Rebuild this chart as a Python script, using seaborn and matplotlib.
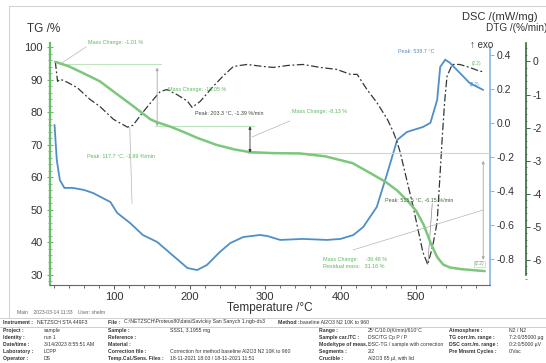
import matplotlib
matplotlib.use("Agg")
import matplotlib.pyplot as plt
from matplotlib.ticker import MultipleLocator, FormatStrFormatter
import seaborn as sns

# ---- measured curves -------------------------------------------------------
temp_tg = [22, 40, 60, 81, 100, 125, 148, 157, 175, 191, 210, 236, 260, 280, 310,
           346, 380, 416, 439, 460, 475, 490, 500, 510, 520, 528, 536, 545, 560, 575, 591]
tg = [95.6, 94.2, 92.0, 89.6, 86.3, 82.0, 77.9, 77.0, 75.6, 74.1, 72.2, 70.0, 68.6, 67.8, 67.5,
      67.4, 66.5, 64.4, 61.4, 58.6, 56.0, 52.5, 49.8, 45.5, 39.5, 35.5, 33.2, 32.3, 31.8, 31.5, 31.2]

temp_dsc = [21, 24, 28, 34, 45, 60, 72, 95, 104, 121, 138, 157, 174, 197, 210, 223, 240, 254,
            271, 293, 303, 320, 350, 382, 400, 417, 430, 448, 462, 475, 488, 509, 519, 528,
            532, 538.7, 545, 558, 571, 589]
dsc = [-0.012, -0.218, -0.335, -0.382, -0.382, -0.394, -0.412, -0.465, -0.529, -0.588, -0.659,
       -0.700, -0.765, -0.853, -0.865, -0.835, -0.759, -0.706, -0.671, -0.659, -0.665, -0.688,
       -0.682, -0.688, -0.682, -0.659, -0.612, -0.494, -0.294, -0.100, -0.053, -0.024, 0.000,
       0.135, 0.329, 0.372, 0.353, 0.294, 0.235, 0.194]

temp_dtg = [22, 25, 29, 38, 51, 68, 81, 99, 117.7, 125, 138, 152, 161, 170, 183, 197, 203.3,
            214, 231, 244, 258, 276, 297, 311, 330, 350, 373, 395, 413, 422, 435, 448, 462,
            470, 475, 479, 496, 509, 515.5, 522, 528, 532, 535, 538, 541, 548, 558, 571, 585, 590]
dtg = [0.0, -0.60, -0.54, -0.63, -0.79, -1.15, -1.36, -1.75, -1.99, -1.93, -1.54, -1.15, -0.91,
       -0.85, -1.00, -1.20, -1.39, -1.21, -0.76, -0.45, -0.15, -0.09, -0.15, -0.18, -0.12, -0.09,
       -0.18, -0.24, -0.39, -0.39, -0.85, -1.24, -1.75, -2.14, -2.45, -2.75, -4.38, -5.77, -6.15,
       -5.60, -4.86, -3.35, -2.20, -1.20, -0.45, -0.09, -0.09, -0.18, -0.30, -0.30]

# ---- evaluation results ----------------------------------------------------
mass_changes = [-1.01, -18.05, -8.13, -36.48]
residual_mass = 31.16
step_temps = [28, 157, 280, 589]           # where the step arrows are placed
dtg_peaks = [(117.7, -1.99), (203.3, -1.39), (515.5, -6.15)]
dsc_peak_temp = 538.7

x_ticks = [100, 200, 300, 400, 500]

TG_GREEN = "#7cc77c"
TG_AXIS = "#69bd69"
TXT_GREEN = "#5cb85c"
DSC_BLUE = "#4f8fc6"
DTG_DARK = "#2f3a30"
DTG_AXIS = "#3b6a3b"
LEADER = "#b5b5b5"

sns.set_theme(style="white")
plt.rcParams["font.family"] = ["Liberation Sans", "DejaVu Sans"]
plt.rcParams["axes.unicode_minus"] = False

W, H = 546, 363
fig = plt.figure(figsize=(W / 100, H / 100), dpi=100)
fig.patch.set_facecolor("white")


def fx(px):
    return px / W


def fy(py):
    return 1 - py / H


ax = fig.add_axes([fx(50), fy(285), fx(490) - fx(50), fy(43) - fy(285)])
ax_dsc = ax.twinx()
ax_dtg = ax.twinx()

ax.set_xlim(15, 598)
ax.set_ylim(26.92, 101.38)
ax_dsc.set_ylim(-0.953, 0.47)
ax_dtg.set_ylim(-6.77, 0.56)

# curves
sns.lineplot(x=temp_dsc, y=dsc, ax=ax_dsc, color=DSC_BLUE, lw=1.3, sort=False, estimator=None)
sns.lineplot(x=temp_dtg, y=dtg, ax=ax_dtg, color=DTG_DARK, lw=0.9, sort=False, estimator=None,
             linestyle=(0, (6, 2, 1.5, 2)))
sns.lineplot(x=temp_tg, y=tg, ax=ax, color=TG_GREEN, lw=1.8, sort=False, estimator=None)
ax.set_zorder(3)
ax.patch.set_visible(False)

# ---- spines and ticks ------------------------------------------------------
for a in (ax, ax_dsc, ax_dtg):
    for s in ("top", "left", "right", "bottom"):
        a.spines[s].set_visible(False)

ax.spines["left"].set_visible(True)
ax.spines["left"].set_color(TG_AXIS)
ax.spines["left"].set_linewidth(1.6)
ax.spines["bottom"].set_visible(True)
ax.spines["bottom"].set_color("#666666")
ax.spines["bottom"].set_linewidth(0.8)

ax.xaxis.set_major_locator(plt.FixedLocator(x_ticks))
ax.xaxis.set_minor_locator(MultipleLocator(20))
ax.yaxis.set_major_locator(MultipleLocator(10))
ax.yaxis.set_minor_locator(MultipleLocator(2))
ax.tick_params(axis="x", which="major", direction="out", length=3, width=0.7, color="#555",
               labelsize=8, labelcolor="#333", pad=2, bottom=True)
ax.tick_params(axis="x", which="minor", direction="out", length=2, width=0.6, color="#555", bottom=True)
ax.tick_params(axis="y", which="major", direction="inout", length=4, width=0.8, color=TG_AXIS,
               labelsize=8, labelcolor="#333", pad=3, left=True)
ax.tick_params(axis="y", which="minor", direction="inout", length=2.5, width=0.6, color=TG_AXIS, left=True)
ax.set_xlabel("Temperature /°C", fontsize=8.5, color="#333", labelpad=0)
ax.set_ylabel("")

ax_dsc.spines["right"].set_visible(True)
ax_dsc.spines["right"].set_color("#86b6dd")
ax_dsc.spines["right"].set_linewidth(1.2)
ax_dsc.spines["right"].set_bounds(-0.953, 0.447)
ax_dsc.yaxis.set_major_locator(MultipleLocator(0.2))
ax_dsc.yaxis.set_major_formatter(FormatStrFormatter("%.1f"))
ax_dsc.tick_params(axis="y", which="major", direction="out", length=3, width=0.7, color="#86b6dd",
                   labelsize=7.5, labelcolor="#333", pad=2, right=True)
ax_dsc.set_ylabel("")

ax_dtg.spines["right"].set_visible(True)
ax_dtg.spines["right"].set_position(("outward", 36 * 0.72))
ax_dtg.spines["right"].set_color(DTG_AXIS)
ax_dtg.spines["right"].set_linewidth(1.2)
ax_dtg.spines["right"].set_bounds(-6.47, 0.56)
ax_dtg.yaxis.set_major_locator(MultipleLocator(1))
ax_dtg.yaxis.set_minor_locator(MultipleLocator(0.2))
ax_dtg.yaxis.set_major_formatter(FormatStrFormatter("%d"))
ax_dtg.tick_params(axis="y", which="major", direction="out", length=3, width=0.7, color=DTG_AXIS,
                   labelsize=7.5, labelcolor="#333", pad=2, right=True)
ax_dtg.tick_params(axis="y", which="minor", direction="inout", length=2, width=0.5, color=DTG_AXIS, right=True)
ax_dtg.set_ylabel("")
for a in (ax, ax_dsc, ax_dtg):
    a.grid(False)

# ---- mass-change steps ----------------------------------------------------
levels = [residual_mass]
for mc in reversed(mass_changes[1:]):
    levels.insert(0, levels[0] - mc)
level_start = levels[0] - mass_changes[0]      # level before the first small step
L1, L2, L3, Lend = levels
hl = dict(color="#bfe3bf", lw=0.8, zorder=1)
ax.plot([step_temps[0], step_temps[1] + 5], [level_start, level_start], **hl)
ax.plot([step_temps[1] - 3, step_temps[2] + 5], [L2, L2], **hl)
ax.plot([step_temps[2] - 3, 598], [L3, L3], **hl)
arr = dict(arrowstyle="<|-|>", color="#a8a8a8", lw=0.6, mutation_scale=4, shrinkA=0, shrinkB=0)
ax.annotate("", xy=(step_temps[1], L1), xytext=(step_temps[1], L2), arrowprops=arr)
ax.annotate("", xy=(step_temps[2], L2), xytext=(step_temps[2], L3),
            arrowprops=dict(arr, color="#333333"))
ax.annotate("", xy=(step_temps[3], L3 - 2.5), xytext=(step_temps[3], Lend + 3.5), arrowprops=arr)

fs = 3.9
ax.text(65.6, 101.4, f"Mass Change: {mass_changes[0]:.2f} %", fontsize=fs, color=TXT_GREEN,
        va="center", clip_on=False)
ax.plot([step_temps[0], 63], [level_start, 100.2], color=LEADER, lw=0.5)
ax.text(171.5, 87.2, f"Mass Change: {mass_changes[1]:.2f} %", fontsize=fs, color=TXT_GREEN, va="center")
ax.text(335.8, 80.2, f"Mass Change: {mass_changes[2]:.2f} %", fontsize=fs, color=TXT_GREEN, va="center")
ax.plot([step_temps[2] + 3, 333], [72.5, 77.4], color=LEADER, lw=0.5)
ax.text(376.8, 34.7, f"Mass Change:     {mass_changes[3]:.2f} %", fontsize=fs, color=TXT_GREEN, va="center")
ax.text(376.8, 32.5, f"Residual mass:   {residual_mass:.2f} %", fontsize=fs, color=TXT_GREEN, va="center")
ax.plot([416.6, step_temps[3]], [37.7, 50.0], color=LEADER, lw=0.5)

# ---- DTG / DSC peak labels -----------------------------------------------
(p1t, p1v), (p2t, p2v), (p3t, p3v) = dtg_peaks
ax.text(64.2, 66.6, f"Peak: {p1t:.1f} °C, {p1v:.2f} %/min", fontsize=fs, color=TXT_GREEN, va="center")
ax_dtg.plot([p1t + 3, p1t + 6], [p1v, -4.3], color=LEADER, lw=0.5)
ax.text(207, 79.8, f"Peak: {p2t:.1f} °C, {p2v:.2f} %/min", fontsize=fs, color="#3d4a3d", va="center")
ax.text(459, 53.1, f"Peak: {p3t:.1f} °C, {p3v:.2f} %/min", fontsize=fs, color="#3c6b3c", va="center")
ax_dtg.plot([p3t, p3t + 6], [p3v, -4.3], color="#888888", lw=0.5)
ax.text(525, 98.9, f"Peak: {dsc_peak_temp:.1f} °C", fontsize=fs, color=DSC_BLUE, va="center", ha="right")
ax.text(574, 95.2, "(2.2)", fontsize=3.3, color=TXT_GREEN, va="center")
ax.text(571.5, 88.5, "(2.2)", fontsize=3.3, color=DSC_BLUE, va="center")
ax.text(578, 33.4, "(2.2)", fontsize=3.3, color=TXT_GREEN, va="center",
        bbox=dict(boxstyle="square,pad=0.15", fc="none", ec="#9fd59f", lw=0.4))

# ---- axis titles -------------------------------------------------------
fig.text(fx(27), fy(29), "TG /%", fontsize=8.5, color="#333", va="center")
fig.text(fx(462), fy(17), "DSC /(mW/mg)", fontsize=8, color="#333", va="center")
fig.text(fx(486), fy(28), "DTG /(%/min)", fontsize=7.2, color="#333", va="center")
fig.text(fx(493), fy(45), "↑ exo", fontsize=7, color="#333", va="center", ha="right")

# ---- frame and info table ----------------------------------------------
frame = dict(color="#cfcfcf", lw=0.7, transform=fig.transFigure, clip_on=False)
fig.add_artist(plt.Line2D([fx(9), 1], [fy(6), fy(6)], **frame))
fig.add_artist(plt.Line2D([fx(9), fx(9)], [fy(6), fy(317)], **frame))
fig.add_artist(plt.Line2D([0, 1], [fy(318), fy(318)], **frame))
fig.add_artist(plt.Line2D([0, 1], [fy(326.5), fy(326.5)], **frame))

fig.text(fx(17), fy(312.5), "Main    2023-03-14 11:33    User: shelm", fontsize=3.6, color="#666", va="center")

tfs = 3.7
tcol = "#333333"
fig.text(fx(3), fy(322), "Instrument :", fontsize=tfs, weight="bold", color=tcol, va="center")
fig.text(fx(37), fy(322), "NETZSCH STA 449F3", fontsize=tfs, color=tcol, va="center")
fig.text(fx(108), fy(322), "File :", fontsize=tfs, weight="bold", color=tcol, va="center")
fig.text(fx(124), fy(322), "C:\\NETZSCH\\Proteus80\\data\\Savickiy San Sanych 1.ngb-ds3",
         fontsize=tfs, color=tcol, va="center")
fig.text(fx(278), fy(322), "Method :", fontsize=tfs, weight="bold", color=tcol, va="center")
fig.text(fx(300), fy(322), "baseline Al2O3 N2 10K to 960", fontsize=tfs, color=tcol, va="center")

row_y = [330.5, 337.5, 344.5, 351.5, 358.5]
col1 = [("Project :", "sample"), ("Identity :", "run 1"), ("Date/time :", "3/14/2023 8:55:51 AM"),
        ("Laboratory :", "LCPP"), ("Operator :", "DS")]
col2 = [("Sample :", "SSS1, 3.1955 mg"), ("Reference :", ""), ("Material :", ""),
        ("Correction file :", "Correction for method baseline Al2O3 N2 10K to 960"),
        ("Temp.Cal./Sens. Files :", "18-11-2021 18:03 / 18-11-2021 11:51")]
col3 = [("Range :", "25°C/10.0(K/min)/610°C"), ("Sample car./TC :", "DSC/TG Cp P / P"),
        ("Mode/type of meas. :", "DSC-TG / sample with correction"), ("Segments :", "2/2"),
        ("Crucible :", "Al2O3 85 µl, with lid")]
col4 = [("Atmosphere :", "N2 / N2"), ("TG corr./m. range :", "7:2:0/35000 µg"),
        ("DSC corr./m. range :", "0:2:0/5000 µV"), ("Pre Mnsmt Cycles :", "0/Vac"), ("", "")]
columns = [(3, 44, col1), (108, 170, col2), (319, 368, col3), (449, 509, col4)]
for lx, vx, entries in columns:
    for yy, (lab, val) in zip(row_y, entries):
        if lab:
            fig.text(fx(lx), fy(yy), lab, fontsize=tfs, weight="bold", color=tcol, va="center")
        if val:
            fig.text(fx(vx), fy(yy), val, fontsize=tfs, color=tcol, va="center")

fig.savefig("out.png", dpi=100)
